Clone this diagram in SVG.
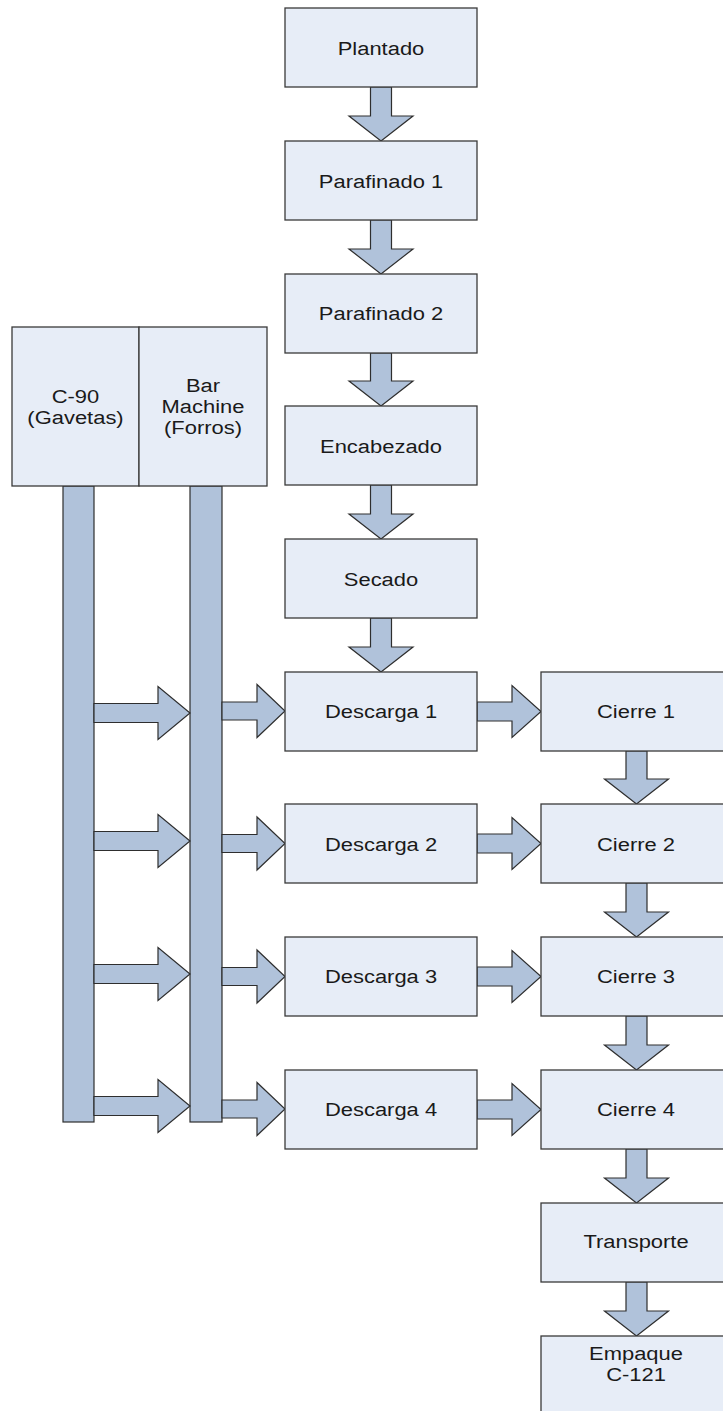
<svg xmlns="http://www.w3.org/2000/svg" width="723" height="1411" viewBox="0 0 723 1411">
<style>
.box{fill:#E7EDF7;stroke:#3A3A3A;stroke-width:1.3}
.arr{fill:#B0C2DA;stroke:#2E2E2E;stroke-width:1.2;stroke-linejoin:miter}
.bar{fill:#B0C2DA;stroke:#2E2E2E;stroke-width:1.2}
text{font-family:"Liberation Sans",Arial,sans-serif;font-size:19px;fill:#1A1A1A;text-anchor:middle}
</style>
<rect width="723" height="1411" fill="#FFFFFF"/>
<g id="connectors">
<rect class="bar" x="63" y="486" width="31" height="636"/>
<rect class="bar" x="190" y="486" width="32" height="636"/>
<polygon class="arr" points="370.5,87 391.5,87 391.5,116 413,116 381,141 349,116 370.5,116"/>
<polygon class="arr" points="370.5,220 391.5,220 391.5,249 413,249 381,274 349,249 370.5,249"/>
<polygon class="arr" points="370.5,353 391.5,353 391.5,381 413,381 381,406 349,381 370.5,381"/>
<polygon class="arr" points="370.5,485 391.5,485 391.5,514 413,514 381,539 349,514 370.5,514"/>
<polygon class="arr" points="370.5,618 391.5,618 391.5,647 413,647 381,672 349,647 370.5,647"/>
<polygon class="arr" points="626,751 647,751 647,779 668.5,779 636.5,804 604.5,779 626,779"/>
<polygon class="arr" points="626,883 647,883 647,912 668.5,912 636.5,937 604.5,912 626,912"/>
<polygon class="arr" points="626,1016 647,1016 647,1045 668.5,1045 636.5,1070 604.5,1045 626,1045"/>
<polygon class="arr" points="626,1149 647,1149 647,1178 668.5,1178 636.5,1203 604.5,1178 626,1178"/>
<polygon class="arr" points="626,1282 647,1282 647,1311 668.5,1311 636.5,1336 604.5,1311 626,1311"/>
<polygon class="arr" points="477,702 512,702 512,685.5 541,711.5 512,737.5 512,721 477,721"/>
<polygon class="arr" points="477,834 512,834 512,817.5 541,843.5 512,869.5 512,853 477,853"/>
<polygon class="arr" points="477,967 512,967 512,950.5 541,976.5 512,1002.5 512,986 477,986"/>
<polygon class="arr" points="477,1100 512,1100 512,1083.5 541,1109.5 512,1135.5 512,1119 477,1119"/>
<polygon class="arr" points="222,702 257,702 257,684.5 285,711 257,737.5 257,720 222,720"/>
<polygon class="arr" points="222,834.5 257,834.5 257,817 285,843.5 257,870 257,852.5 222,852.5"/>
<polygon class="arr" points="222,967.5 257,967.5 257,950 285,976.5 257,1003 257,985.5 222,985.5"/>
<polygon class="arr" points="222,1100 257,1100 257,1082.5 285,1109 257,1135.5 257,1118 222,1118"/>
<polygon class="arr" points="94,703.5 158,703.5 158,686.5 190,713 158,739.5 158,722.5 94,722.5"/>
<polygon class="arr" points="94,831.5 158,831.5 158,814.5 190,841 158,867.5 158,850.5 94,850.5"/>
<polygon class="arr" points="94,964.5 158,964.5 158,947.5 190,974 158,1000.5 158,983.5 94,983.5"/>
<polygon class="arr" points="94,1096.5 158,1096.5 158,1079.5 190,1106 158,1132.5 158,1115.5 94,1115.5"/>
</g>
<g id="n-plantado"><rect class="box" x="285" y="8" width="192" height="79"/><text transform="translate(381,54.5) scale(1.155,1)">Plantado</text></g>
<g id="n-parafinado1"><rect class="box" x="285" y="141" width="192" height="79"/><text transform="translate(381,187.5) scale(1.155,1)">Parafinado 1</text></g>
<g id="n-parafinado2"><rect class="box" x="285" y="274" width="192" height="79"/><text transform="translate(381,320) scale(1.155,1)">Parafinado 2</text></g>
<g id="n-encabezado"><rect class="box" x="285" y="406" width="192" height="79"/><text transform="translate(381,452.5) scale(1.155,1)">Encabezado</text></g>
<g id="n-secado"><rect class="box" x="285" y="539" width="192" height="79"/><text transform="translate(381,585.5) scale(1.155,1)">Secado</text></g>
<g id="n-descarga1"><rect class="box" x="285" y="672" width="192" height="79"/><text transform="translate(381,718) scale(1.155,1)">Descarga 1</text></g>
<g id="n-descarga2"><rect class="box" x="285" y="804" width="192" height="79"/><text transform="translate(381,850.5) scale(1.155,1)">Descarga 2</text></g>
<g id="n-descarga3"><rect class="box" x="285" y="937" width="192" height="79"/><text transform="translate(381,983) scale(1.155,1)">Descarga 3</text></g>
<g id="n-descarga4"><rect class="box" x="285" y="1070" width="192" height="79"/><text transform="translate(381,1116) scale(1.155,1)">Descarga 4</text></g>
<g id="n-cierre1"><rect class="box" x="541" y="672" width="192" height="79"/><text transform="translate(636,718) scale(1.155,1)">Cierre 1</text></g>
<g id="n-cierre2"><rect class="box" x="541" y="804" width="192" height="79"/><text transform="translate(636,850.5) scale(1.155,1)">Cierre 2</text></g>
<g id="n-cierre3"><rect class="box" x="541" y="937" width="192" height="79"/><text transform="translate(636,983) scale(1.155,1)">Cierre 3</text></g>
<g id="n-cierre4"><rect class="box" x="541" y="1070" width="192" height="79"/><text transform="translate(636,1116) scale(1.155,1)">Cierre 4</text></g>
<g id="n-transporte"><rect class="box" x="541" y="1203" width="192" height="79"/><text transform="translate(636,1248) scale(1.155,1)">Transporte</text></g>
<g id="n-empaque"><rect class="box" x="541" y="1336" width="192" height="90"/><text transform="translate(636,1359.5) scale(1.155,1)">Empaque</text><text transform="translate(636,1381) scale(1.155,1)">C-121</text></g>
<g id="n-c90"><rect class="box" x="12" y="327" width="127" height="159"/><text transform="translate(75.5,403) scale(1.155,1)">C-90</text><text transform="translate(75.5,424) scale(1.155,1)">(Gavetas)</text></g>
<g id="n-barmachine"><rect class="box" x="139" y="327" width="128" height="159"/><text transform="translate(203,392) scale(1.155,1)">Bar</text><text transform="translate(203,413) scale(1.155,1)">Machine</text><text transform="translate(203,434) scale(1.155,1)">(Forros)</text></g>
</svg>
